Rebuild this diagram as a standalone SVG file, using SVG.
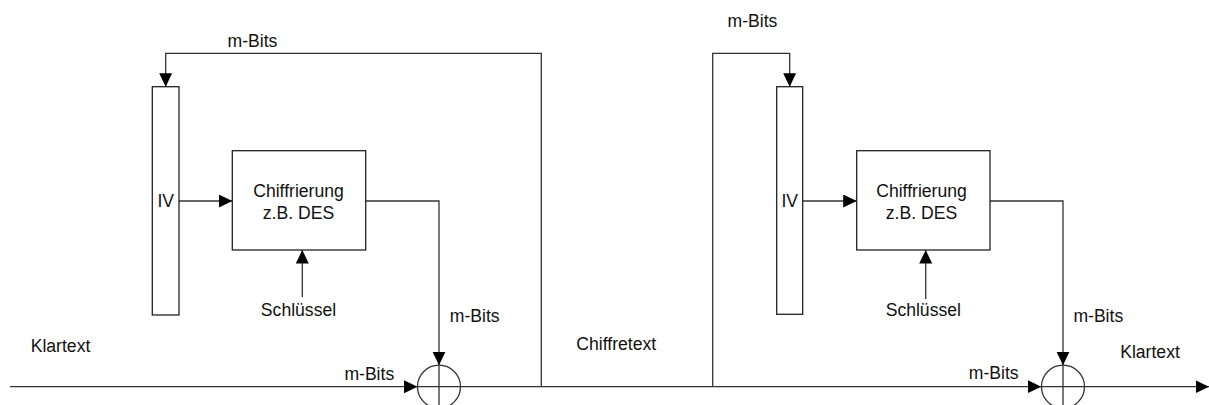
<svg xmlns="http://www.w3.org/2000/svg" width="1209" height="405" viewBox="0 0 1209 405">
<style>
.bg{fill:#ffffff}
.box{fill:#ffffff;stroke:#222;stroke-width:1.3}
.ln{fill:none;stroke:#333;stroke-width:1.3}
.arr{fill:none;stroke:#333;stroke-width:1.3;marker-end:url(#ah)}
.t{font-family:"Liberation Sans",Arial,sans-serif;font-size:17.6px;fill:#111;text-anchor:middle}
</style>
<defs>
<marker id="ah" markerUnits="userSpaceOnUse" markerWidth="14" markerHeight="14" refX="13.5" refY="6.5" orient="auto">
<path d="M0,0 L13.5,6.5 L0,13 z" fill="#000"/>
</marker>
</defs>
<rect class="bg" x="0" y="0" width="1209" height="405"/>

<g id="connectors">
<!-- left feedback -->
<polyline class="arr" points="541.3,386.7 541.3,53.3 165.7,53.3 165.7,86.7"/>
<line class="arr" x1="179" y1="201" x2="232.3" y2="201"/>
<polyline class="arr" points="365.7,201 439,201 439,365.2"/>
<line class="arr" x1="302.3" y1="297.3" x2="302.3" y2="250"/>
<line class="arr" x1="10" y1="386.7" x2="417.5" y2="386.7"/>
<line class="arr" x1="460.5" y1="386.7" x2="1041.3" y2="386.7"/>
<!-- right feedback -->
<polyline class="arr" points="712.7,386.7 712.7,53.3 789.7,53.3 789.7,86.7"/>
<line class="arr" x1="802.7" y1="201" x2="856.7" y2="201"/>
<polyline class="arr" points="990,201 1063,201 1063,365.2"/>
<line class="arr" x1="925.7" y1="299" x2="925.7" y2="250"/>
<line class="arr" x1="1084.5" y1="386.7" x2="1209" y2="386.7"/>
</g>

<g id="iv-left">
<rect class="box" x="152.3" y="86.7" width="26.7" height="228.3"/>
<text class="t" x="165.7" y="207.3">IV</text>
</g>
<g id="cipher-left">
<rect class="box" x="232.3" y="150.7" width="133.4" height="99.3"/>
<text class="t" x="298.5" y="196.7">Chiffrierung</text>
<text class="t" x="298.5" y="219">z.B. DES</text>
</g>
<g id="key-left">
<text class="t" x="298.5" y="316">Schlüssel</text>
</g>
<g id="xor-left">
<circle class="ln" cx="439" cy="386.7" r="21.5"/>
<line class="ln" x1="439" y1="365.2" x2="439" y2="408.2"/>
<line class="ln" x1="417.5" y1="386.7" x2="460.5" y2="386.7"/>
</g>

<g id="iv-right">
<rect class="box" x="776.7" y="86.7" width="26" height="227.6"/>
<text class="t" x="789.7" y="207.3">IV</text>
</g>
<g id="cipher-right">
<rect class="box" x="856.7" y="150.7" width="133.3" height="99.3"/>
<text class="t" x="921.5" y="196.7">Chiffrierung</text>
<text class="t" x="921.5" y="219">z.B. DES</text>
</g>
<g id="key-right">
<text class="t" x="923.3" y="315.5">Schlüssel</text>
</g>
<g id="xor-right">
<circle class="ln" cx="1063" cy="386.7" r="21.5"/>
<line class="ln" x1="1063" y1="365.2" x2="1063" y2="408.2"/>
<line class="ln" x1="1041.5" y1="386.7" x2="1084.5" y2="386.7"/>
</g>

<g id="labels">
<text class="t" x="252.5" y="46.5">m-Bits</text>
<text class="t" x="474.7" y="321.7">m-Bits</text>
<text class="t" x="60.5" y="352.3">Klartext</text>
<text class="t" x="369.3" y="380">m-Bits</text>
<text class="t" x="616.3" y="350">Chiffretext</text>
<text class="t" x="752.5" y="26.7">m-Bits</text>
<text class="t" x="1098.3" y="321.7">m-Bits</text>
<text class="t" x="1150" y="358.3">Klartext</text>
<text class="t" x="993.7" y="379.3">m-Bits</text>
</g>
</svg>
